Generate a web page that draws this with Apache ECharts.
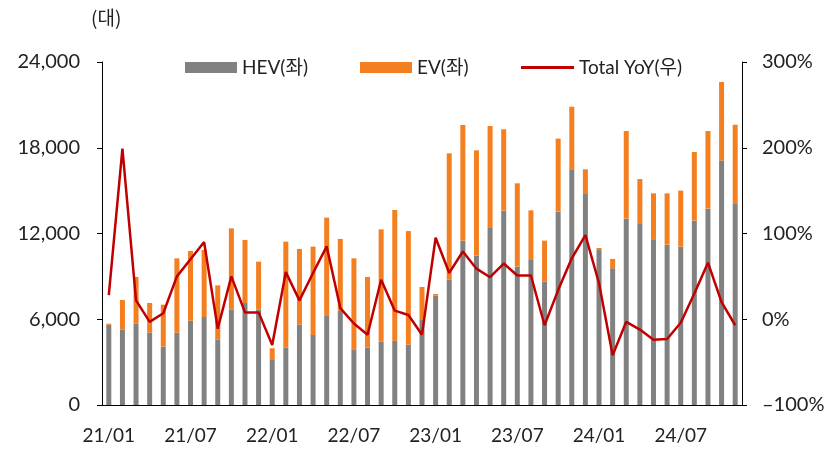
<!DOCTYPE html>
<html>
<head>
<meta charset="utf-8">
<title>HEV / EV</title>
<script src="https://cdn.jsdelivr.net/npm/echarts@6/dist/echarts.min.js"></script>
<style>
  * { margin: 0; padding: 0 }
  html, body { width: 100%; height: 100%; background: #fff; }
  #main { width: 835px; height: 450px; }
</style>
</head>
<body>
<div id="main"></div>
<script type="text/javascript">
// 21/01 ~ 24/11 월별
var months = [];
for (var y = 21; y <= 24; y++) {
  for (var m = 1; m <= 12; m++) {
    if (y == 24 && m > 11) break;
    months.push(y + '/' + (m < 10 ? '0' + m : m));
  }
}

var hev = [5620, 5290, 5710, 5060, 4080, 5060, 5900, 6160, 4590, 6690, 7140, 6690,
           3200, 4030, 5620, 4900, 6230, 6580, 3900, 4010, 4430, 4500, 4220, 5950,
           7650, 8790, 11500, 10450, 12430, 13600, 9680, 10190, 8650, 13530, 16490, 14810,
           10890, 9560, 13040, 12710, 11590, 11220, 11080, 12900, 13740, 17100, 14110];

var ev = [70, 2060, 3250, 2080, 2940, 5200, 4880, 4690, 3780, 5670, 4410, 3340,
          770, 7400, 5300, 6180, 6880, 5040, 6360, 4950, 7860, 9140, 7950, 2310,
          120, 8820, 8090, 7370, 7090, 5690, 5830, 3430, 2850, 5110, 4380, 1680,
          100, 660, 6130, 3100, 3220, 3590, 3920, 4800, 5430, 5500, 5500];

var yoy = [28, 199, 22, -3, 7, 50, 70, 90, -11, 50, 8, 8,
           -30, 55, 22, 54, 85, 13, -5, -18, 46, 10, 5, -18,
           95, 54, 79, 59, 49, 65, 51, 51, -7, 34, 71, 98,
           42, -42, -3, -12, -24, -23, -4, 30, 66, 20, -7];

var FONT = 'Lato, "Noto Sans CJK KR", sans-serif';
var chart = echarts.init(document.getElementById('main'));

var legendText = { fontFamily: FONT, fontSize: 19, color: '#222' };

chart.setOption({
  animation: false,
  textStyle: { fontFamily: FONT },
  title: {
    text: '(대)', left: 86, top: 3,
    textStyle: { fontFamily: 'Noto Sans CJK KR', fontSize: 19, fontWeight: 'normal', color: '#222' }
  },
  legend: [
    { data: [{ name: 'HEV(좌)', icon: 'rect' }], left: 180, top: 53, itemWidth: 52, itemHeight: 11, textStyle: legendText },
    { data: [{ name: 'EV(좌)', icon: 'rect' }], left: 355, top: 53, itemWidth: 52, itemHeight: 11, textStyle: legendText },
    { data: [{ name: 'Total YoY(우)', icon: 'rect' }], left: 516, top: 53, itemWidth: 53, itemHeight: 3, textStyle: legendText }
  ],
  grid: { left: 102, right: 93, top: 62, bottom: 45 },
  xAxis: {
    type: 'category',
    data: months,
    axisLine: { lineStyle: { color: '#000', width: 1 } },
    axisTick: { interval: 5, length: 5, lineStyle: { color: '#000' } },
    axisLabel: {
      interval: 5, margin: 21, color: '#222', fontSize: 19, fontFamily: FONT
    }
  },
  yAxis: [
    {
      type: 'value', min: 0, max: 24000, interval: 6000,
      splitLine: { show: false },
      axisLine: { show: true, lineStyle: { color: '#000' } },
      axisTick: { show: true, length: 5, lineStyle: { color: '#000' } },
      axisLabel: {
        color: '#222', fontSize: 20, fontFamily: FONT, margin: 22,
        formatter: function (v) { return v.toLocaleString('en-US'); }
      }
    },
    {
      type: 'value', min: -100, max: 300, interval: 100,
      splitLine: { show: false },
      axisLine: { show: true, lineStyle: { color: '#000' } },
      axisTick: { show: true, length: 5, lineStyle: { color: '#000' } },
      axisLabel: {
        color: '#222', fontSize: 20, fontFamily: FONT, margin: 20,
        formatter: function (v) { return (v < 0 ? '\u2013' + (-v) : v) + '%'; }
      }
    }
  ],
  series: [
    {
      name: 'HEV(좌)', type: 'bar', stack: 'car', barWidth: 5,
      itemStyle: { color: '#818181' },
      data: hev
    },
    {
      name: 'EV(좌)', type: 'bar', stack: 'car', barWidth: 5,
      itemStyle: { color: '#F47F20' },
      data: ev
    },
    {
      name: 'Total YoY(우)', type: 'line', yAxisIndex: 1,
      symbol: 'none', z: 5,
      lineStyle: { color: '#C00000', width: 2.5 },
      itemStyle: { color: '#C00000' },
      data: yoy
    }
  ]
});
</script>
</body>
</html>
